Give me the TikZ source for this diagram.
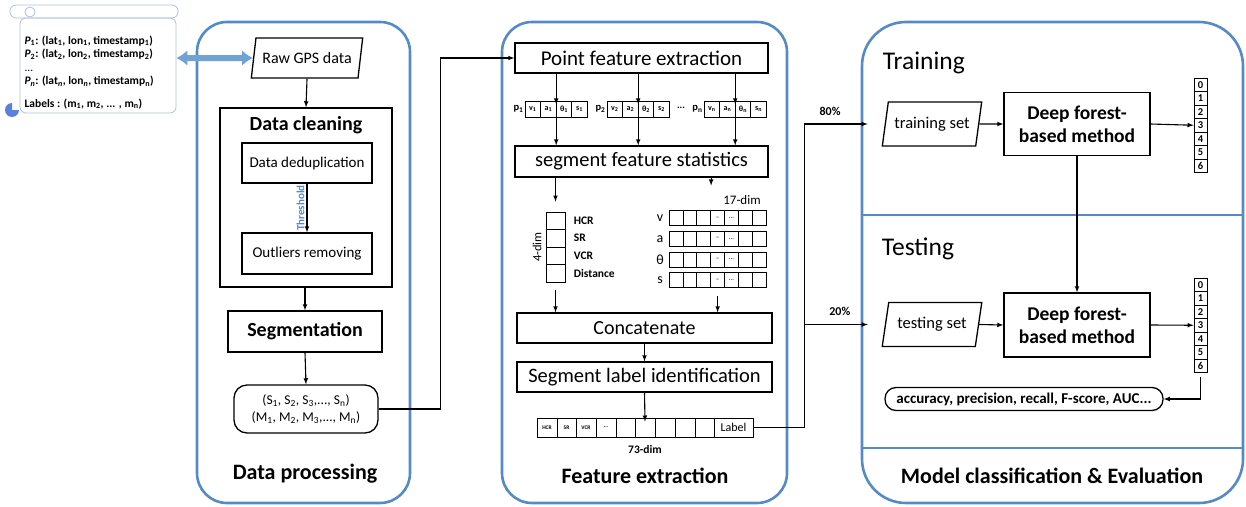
\documentclass[tikz,border=0pt]{standalone}
\usepackage{fontspec}
\setmainfont{Carlito}
\usetikzlibrary{shapes.geometric, arrows.meta, positioning}

\definecolor{panelblue}{RGB}{84,139,198}
\definecolor{scrollgray}{RGB}{176,192,212}
\definecolor{fatblue}{RGB}{112,162,212}
\newcommand{\fsz}[2]{\fontsize{#1}{#2}\selectfont}

\tikzset{
	panel/.style={draw=panelblue, line width=2.6pt, rounded corners=30pt, inner sep=0},
	box/.style={draw, line width=1.3pt, inner sep=0},
	slanted/.style={draw, line width=1.3pt, trapezium, trapezium left angle=70,
		trapezium right angle=110, trapezium stretches=true, inner sep=0},
	pill/.style={draw, line width=1.3pt, rounded corners=11pt, inner sep=0},
	cell/.style={draw, line width=0.8pt, inner sep=0, font=\bfseries\fsz{8}{9}},
	bigarrow/.style={fatblue, line width=6pt, {Latex[length=11pt,width=16pt]}-{Latex[length=11pt,width=16pt]}},
	title/.style={font=\bfseries\fsz{22}{25}},
}

\begin{document}
\begin{tikzpicture}[x=1pt, y=-1pt, >=latex, line width=1.1pt]
	\useasboundingbox (0,0) rectangle (1246,506);

	% panels
	\node[panel, minimum width=213, minimum height=481] (proc) at (303.5,262.5) {};
	\node[panel, minimum width=285, minimum height=481] (feat) at (644.5,262.5) {};
	\node[panel, rounded corners=44pt, minimum width=381, minimum height=481] (model) at (1052.5,262.5) {};
	\draw[panelblue, line width=2pt] (model.west |- 0,215) -- (model.east |- 0,215);
	\draw[panelblue, line width=2pt] (model.west |- 0,448) -- (model.east |- 0,448);

	% scroll with the raw records
	\draw[scrollgray, line width=0.8pt, rounded corners=6pt] (10,5) rectangle (178,18);
	\node[draw=scrollgray, line width=0.8pt, rounded corners=6pt, minimum width=156, minimum height=95] (scroll) at (98,65.5) {};
	\draw[scrollgray, line width=0.8pt] (30,12) circle (5);
	\fill[fatblue!80!blue] (12,110) -- ++(7,0) arc[start angle=0, end angle=270, radius=7] -- cycle;
	\node[anchor=north west, align=left, inner sep=0, font=\bfseries\fsz{11.5}{13.5}] (records) at (24,35)
		{\textit{P}\textsubscript{1}: (lat\textsubscript{1}, lon\textsubscript{1}, timestamp\textsubscript{1})\\
		 \textit{P}\textsubscript{2}: (lat\textsubscript{2}, lon\textsubscript{2}, timestamp\textsubscript{2})\\
		 \textmd{...}\\
		 \textit{P}\textsubscript{\textit{n}}: (lat\textsubscript{\textit{n}}, lon\textsubscript{\textit{n}}, timestamp\textsubscript{n})\\[9pt]
		 Labels : (m\textsubscript{1}, m\textsubscript{2}, ... , m\textsubscript{n})};

	% data processing
	\node[slanted, minimum width=112, minimum height=40, font=\fsz{16}{18}] (raw) at (307,58) {Raw GPS data};
	\node[box, minimum width=172, minimum height=179] (clean) at (306,197.5) {};
	\node[font=\bfseries\fsz{20}{23}] (cleantitle) at (306,125) {Data cleaning};
	\node[box, minimum width=130, minimum height=40, font=\fsz{15}{17}] (dedup) at (307,163) {Data deduplication};
	\node[box, minimum width=130, minimum height=41, font=\fsz{15}{17}] (outl) at (307,253.5) {Outliers removing};
	\node[box, minimum width=154, minimum height=41, font=\bfseries\fsz{20}{23}] (seg) at (305,331.5) {Segmentation};
	\node[pill, rounded corners=13pt, minimum width=144, minimum height=48, align=center, font=\fsz{13.5}{17}] (segs) at (306,409)
		{(S\textsubscript{1}, S\textsubscript{2}, S\textsubscript{3},..., S\textsubscript{n})\\
		 (M\textsubscript{1}, M\textsubscript{2}, M\textsubscript{3},..., M\textsubscript{n})};
	\node[title] (proctitle) at (305,474) {Data processing};

	\draw[bigarrow] (scroll.east |- raw) -- (raw.west);
	\draw[->] (raw.south) -- (clean.north);
	\draw[->] (dedup) -- (outl) node[midway, rotate=90, anchor=south, inner sep=2pt, text=panelblue, font=\bfseries\fsz{11}{12}] {Threshold};
	\draw[->] (clean.south -| seg) -- (seg.north);
	\draw[->] (seg.south) -- (segs.north);

	% feature extraction
	\node[box, minimum width=253, minimum height=30, font=\fsz{21}{24}] (pfe) at (641.5,58) {Point feature extraction};
	\foreach \g/\x/\s in {1/525/1, 2/607/2, 3/704/n} {
		\node[anchor=east, inner sep=1pt, font=\bfseries\fsz{10.5}{11}] at (\x,109) {p\textsubscript{\s}};
		\foreach \c/\t in {1/v, 2/a, 3/θ, 4/s}
			\node[cell, minimum width=15.6, minimum height=16] at ({\x+(\c-0.5)*15.6},109) {\t\textsubscript{\s}};
		\node[minimum width=62, minimum height=16, inner sep=0] (grp\g) at (\x+31.2,109) {};
	}
	\node[font=\bfseries\fsz{10}{11}] (pdots) at (681,108) {...};
	\node[box, minimum width=253, minimum height=31, font=\fsz{20.5}{23}] (sfs) at (641.5,161.5) {segment feature statistics};
	\foreach \g in {1,2,3} {
		\draw[->] (pfe.south -| grp\g) -- ([yshift=-4pt]grp\g.north);
		\draw[->] (grp\g.south) -- (sfs.north -| grp\g);
	}

	% 4-dim statistics
	\foreach \r/\t in {1/HCR, 2/SR, 3/VCR, 4/Distance} {
		\node[cell, minimum width=19, minimum height=17.5] (fd\r) at (555.5,{212+(\r-0.5)*17.5}) {};
		\node[anchor=west, font=\bfseries\fsz{11.5}{13}] at (570,{212+(\r-0.5)*17.5}) {\t};
	}
	\node[rotate=90, font=\fsz{12.5}{14}] (fourdim) at (537,247) {4-dim};

	% 17-dim statistics
	\foreach \r/\t in {1/v, 2/a, 3/θ, 4/s} {
		\node[font=\fsz{14}{15}] (row\r) at (660,{218+(\r-1)*20.7}) {\t};
		\foreach \c in {1,...,7}
			\node[cell, minimum width=13.9, minimum height=15] (g\r-\c) at ({669+(\c-0.5)*13.9},{218+(\r-1)*20.7}) {};
		\node[font=\fsz{7}{8}] at (g\r-4) {--};
		\node[font=\fsz{7}{8}] at (g\r-5) {...};
	}
	\node[font=\fsz{13}{14}] (sevdim) at (742,200) {17-dim};

	\node[box, minimum width=255, minimum height=30, font=\fsz{20}{23}] (concat) at (644.5,328) {Concatenate};
	\node[box, minimum width=255, minimum height=30, font=\fsz{20.5}{23}] (sli) at (644.5,377) {Segment label identification};

	\draw[->] (sfs.south -| fd1) -- ([yshift=10pt]fd1.north);
	\draw[->] (sfs.south -| g1-3.east) -- ([yshift=6pt]sevdim.north -| g1-3.east);
	\draw[->] ([yshift=-8pt]fd4.south) -- (concat.north -| fd4);
	\draw[->] ([yshift=-8pt]g4-4.south) -- (concat.north -| g4-4);
	\draw[->] (concat.south) -- (sli.north);

	% 73-dim vector
	\foreach \i/\a/\b/\t in {1/537/557/HCR, 2/557/576/SR, 3/576/596/VCR, 4/596/616/{...}, 5/616/635/{}, 6/635/655/{},
		7/655/675/{}, 8/675/695/{}, 9/695/714/{}, 10/714/753/{}}
		\node[cell, font=\bfseries\fsz{5.5}{6}, minimum width=\b-\a, minimum height=19] (v\i) at ({(\a+\b)/2},427.5) {\t};
	\node[font=\fsz{12}{13}] (lab) at (733.5,427.5) {Label};
	\node[font=\bfseries\fsz{11.5}{13}] (sevthree) at (645,449) {73-dim};
	\node[title] (feattitle) at (645,476) {Feature extraction};
	\draw[->] (sli.south) -- ([yshift=-4pt]v6.north);

	% model classification
	\node[anchor=west, font=\fsz{25.5}{28}] (train) at (879,63) {Training};
	\node[anchor=west, font=\fsz{25.5}{28}] (test) at (878,249) {Testing};
	\node[slanted, minimum width=100, minimum height=44, font=\fsz{16.5}{18}] (trainset) at (932,124) {training set};
	\node[slanted, minimum width=100, minimum height=44, font=\fsz{16.5}{18}] (testset) at (932,324.5) {testing set};
	\node[box, minimum width=146, minimum height=63, align=center, font=\bfseries\fsz{19.5}{23}] (dftrain) at (1077,124) {Deep forest-\\based method};
	\node[box, minimum width=146, minimum height=64, align=center, font=\bfseries\fsz{19.5}{23}] (dftest) at (1077,325) {Deep forest-\\based method};
	\foreach \k/\y in {1/78, 2/278}
		\foreach \i in {0,...,6}
			\node[cell, font=\bfseries\fsz{10.5}{11}, minimum width=13, minimum height=13.5] (o\k-\i) at (1200.5,{\y+(\i+0.5)*13.5}) {\i};
	\node[pill, minimum width=278, minimum height=23, font=\bfseries\fsz{15}{16}] (metrics) at (1024,399) {accuracy, precision, recall, F-score, AUC...};
	\node[title] (modeltitle) at (1052,476) {Model classification \& Evaluation};

	\draw[->] (segs.east) -- ++(62,0) |- (pfe.west);
	\draw[->, shorten >=17pt] (v10.east) -- ++(51,0) |- (trainset.west) node[pos=0.66, above=5pt, font=\bfseries\fsz{12}{13}] {80\%};
	\draw[->, shorten >=17pt] (v10.east) -- ++(51,0) |- (testset.west) node[pos=0.72, above=5pt, font=\bfseries\fsz{12}{13}] {20\%};
	\draw[->] (trainset.east) -- (dftrain.west);
	\draw[->] (testset.east) -- (dftest.west);
	\draw[->] (dftrain.east) -- (o1-3.west);
	\draw[->] (dftest.east) -- (o2-3.west);
	\draw[->] (dftrain.south) -- (dftest.north);
	\draw[->, shorten <=4pt] (o2-6.south) |- (metrics.east);

\end{tikzpicture}
\end{document}
